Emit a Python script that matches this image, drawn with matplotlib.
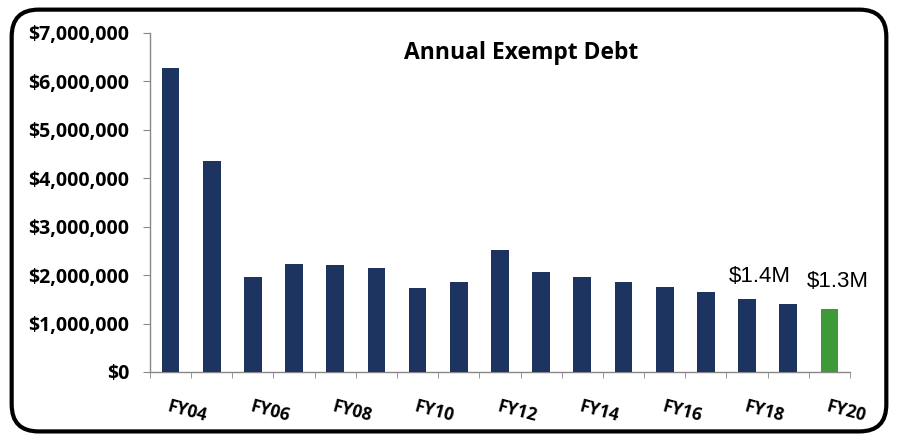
import matplotlib
matplotlib.use("Agg")
import matplotlib.pyplot as plt
from matplotlib.patches import FancyBboxPatch
from matplotlib.ticker import FuncFormatter, MultipleLocator
import numpy as np

years = ["FY04", "FY05", "FY06", "FY07", "FY08", "FY09", "FY10", "FY11", "FY12",
         "FY13", "FY14", "FY15", "FY16", "FY17", "FY18", "FY19", "FY20"]
debt = [6.28e6, 4.36e6, 1.96e6, 2.24e6, 2.20e6, 2.15e6, 1.74e6, 1.85e6, 2.51e6,
        2.07e6, 1.97e6, 1.86e6, 1.76e6, 1.65e6, 1.50e6, 1.40e6, 1.30e6]
annotations = [("$1.4M", 14.3, 1.97e6), ("$1.3M", 16.2, 1.87e6)]

navy = "#1d3461"
green = "#3e9a36"
colors = [navy] * (len(years) - 1) + [green]

plt.rcParams['font.family'] = ['Open Sans', 'DejaVu Sans']
fig = plt.figure(figsize=(8.98, 4.38), dpi=100)
ax = fig.add_axes([0.167, 0.1507, 0.7795, 0.774])

x = np.arange(len(years))
ax.bar(x, debt, width=0.43, color=colors, zorder=3)

ax.set_xlim(-0.5, len(years) - 0.5)
ax.set_ylim(0, 7e6)
ax.yaxis.set_major_locator(MultipleLocator(1e6))
ax.yaxis.set_major_formatter(FuncFormatter(lambda v, p: "${:,.0f}".format(v)))
ax.tick_params(axis='y', direction='out', length=5, color='#888888', labelsize=14, pad=10)
for lbl in ax.get_yticklabels():
    lbl.set_fontweight('bold')

ax.set_xticks(x[::2])
ax.set_xticklabels(years[::2], rotation=-15, ha='left', va='top',
                   rotation_mode='anchor', fontsize=12.5, fontweight='bold')
ax.tick_params(axis='x', which='major', length=0, pad=18)
ax.set_xticks(np.arange(-0.5, len(years), 1.0), minor=True)
ax.tick_params(axis='x', which='minor', direction='out', length=4, color='#888888')

for s in ['top', 'right']:
    ax.spines[s].set_visible(False)
for s in ['left', 'bottom']:
    ax.spines[s].set_color('#888888')
    ax.spines[s].set_linewidth(1.0)

fig.text(0.58, 0.88, "Annual Exempt Debt", ha='center', va='center',
         fontsize=16.5, fontweight='bold')

for txt, xi, yv in annotations:
    ax.text(xi, yv, txt, ha='center', va='center', fontsize=16,
            family=['Liberation Sans', 'DejaVu Sans'])

frame = FancyBboxPatch((0.013, 0.015), 0.974, 0.963,
                       boxstyle="round,pad=0,rounding_size=0.03",
                       transform=fig.transFigure, fill=False,
                       edgecolor='black', linewidth=3, mutation_aspect=898/438)
fig.patches.append(frame)

fig.savefig("out.png", dpi=100)
